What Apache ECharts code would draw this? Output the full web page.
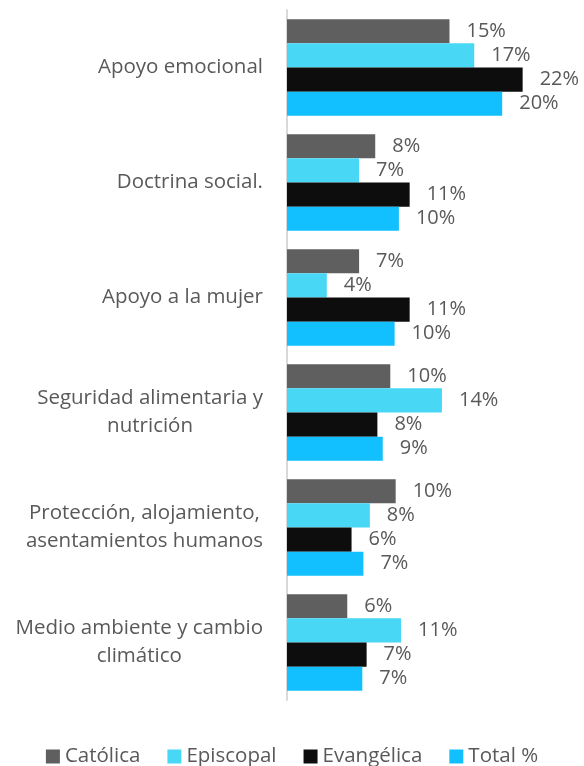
<!DOCTYPE html>
<html>
<head>
<meta charset="utf-8">
<script src="https://cdn.jsdelivr.net/npm/echarts@6/dist/echarts.min.js"></script>
<style>
  html, body { margin: 0; padding: 0; background: #fff; }
  #chart { width: 584px; height: 766px; }
</style>
</head>
<body>
<div id="chart"></div>
<script>
const categories = [
  'Apoyo emocional',
  'Doctrina social.',
  'Apoyo a la mujer',
  'Seguridad alimentaria y\nnutrición',
  'Protección, alojamiento,\nasentamientos humanos',
  'Medio ambiente y cambio\nclimático',
];
const catolica = [15.1, 8.2, 6.7, 9.6, 10.1, 5.6];
const episcopal = [17.4, 6.7, 3.7, 14.4, 7.7, 10.6];
const evangelica = [21.9, 11.4, 11.4, 8.4, 6.0, 7.4];
const total = [20.0, 10.4, 10.0, 8.9, 7.1, 7.0];

const FONT = '"Open Sans", sans-serif';
const TEXT = '#595959';

const makeSeries = (name, data, color) => ({
  name,
  type: 'bar',
  data,
  barGap: '0%',
  barCategoryGap: '16%',
  itemStyle: { color },
  label: {
    show: true,
    position: 'right',
    distance: 17,
    color: TEXT,
    fontSize: 20,
    fontFamily: FONT,
    formatter: p => Math.round(p.value) + '%',
  },
  animation: false,
});

const chart = echarts.init(document.getElementById('chart'));
chart.setOption({
  backgroundColor: '#fff',
  grid: { left: 287, right: 28, top: 10, bottom: 66 },
  legend: {
    top: 741,
    left: 'center',
    itemWidth: 14,
    itemHeight: 14,
    itemGap: 27,
    icon: 'rect',
    textStyle: { color: TEXT, fontSize: 20.5, fontFamily: FONT },
  },
  xAxis: {
    type: 'value',
    min: 0,
    max: 25,
    show: false,
  },
  yAxis: {
    type: 'category',
    data: categories,
    inverse: true,
    axisTick: { show: false },
    axisLine: { show: true, lineStyle: { color: '#d9d9d9', width: 2 } },
    axisLabel: {
      margin: 24,
      color: TEXT,
      fontSize: 20.5,
      fontFamily: FONT,
      lineHeight: 28,
      formatter: v => v.split('\n').map(s => '{c|' + s + '}').join('\n'),
      rich: { c: { align: 'center', color: TEXT, fontSize: 20.5, fontFamily: FONT, lineHeight: 28 } },
    },
  },
  series: [
    makeSeries('Católica', catolica, '#5f5f5f'),
    makeSeries('Episcopal', episcopal, '#48d8f5'),
    makeSeries('Evangélica', evangelica, '#0d0d0d'),
    makeSeries('Total %', total, '#12bfff'),
  ],
});
</script>
</body>
</html>
